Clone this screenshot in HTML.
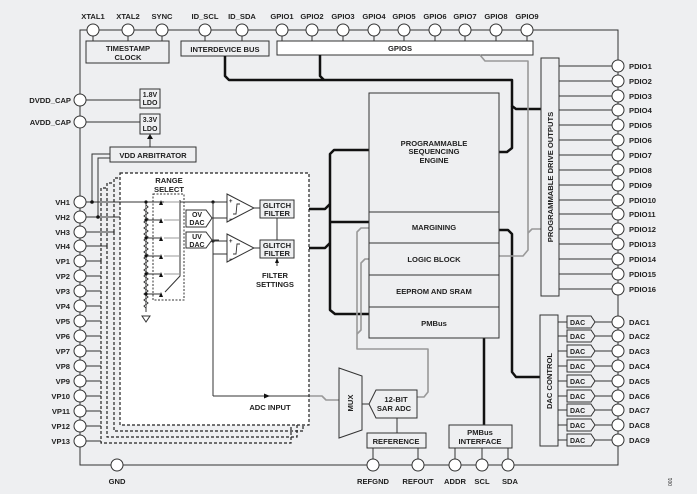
<!DOCTYPE html>
<html><head><meta charset="utf-8"><style>
html,body{margin:0;padding:0;background:#eeeff1;}
svg{display:block;font-family:"Liberation Sans",sans-serif;font-weight:bold;}
text{font-size:7.6px;fill:#222;}
</style></head><body>
<svg width="697" height="494" viewBox="0 0 697 494" xmlns="http://www.w3.org/2000/svg">
<rect width="697" height="494" fill="#eeeff1"/>
<g fill="none" stroke="#333" stroke-width="1">
<polyline points="80,441 80,30 618,30 618,465 80,465 80,441"/>
</g>
<g text-anchor="middle">
<text x="93" y="19">XTAL1</text><text x="128" y="19">XTAL2</text><text x="162" y="19">SYNC</text>
<text x="205" y="19">ID_SCL</text><text x="242" y="19">ID_SDA</text>
<text x="282" y="19">GPIO1</text><text x="312" y="19">GPIO2</text><text x="343" y="19">GPIO3</text>
<text x="374" y="19">GPIO4</text><text x="404" y="19">GPIO5</text><text x="435" y="19">GPIO6</text>
<text x="465" y="19">GPIO7</text><text x="496" y="19">GPIO8</text><text x="527" y="19">GPIO9</text>
</g>
<g stroke="#333" fill="none">
<line x1="93" y1="30" x2="93" y2="41"/><line x1="128" y1="30" x2="128" y2="41"/><line x1="162" y1="30" x2="162" y2="41"/>
<line x1="205" y1="30" x2="205" y2="41"/><line x1="242" y1="30" x2="242" y2="41"/>
<line x1="282" y1="30" x2="282" y2="41"/><line x1="312" y1="30" x2="312" y2="41"/><line x1="343" y1="30" x2="343" y2="41"/><line x1="374" y1="30" x2="374" y2="41"/><line x1="404" y1="30" x2="404" y2="41"/><line x1="435" y1="30" x2="435" y2="41"/><line x1="465" y1="30" x2="465" y2="41"/><line x1="496" y1="30" x2="496" y2="41"/><line x1="527" y1="30" x2="527" y2="41"/>
</g>
<g fill="#fff" stroke="#333">
<circle cx="93" cy="30" r="6"/><circle cx="128" cy="30" r="6"/><circle cx="162" cy="30" r="6"/>
<circle cx="205" cy="30" r="6"/><circle cx="242" cy="30" r="6"/>
<circle cx="282" cy="30" r="6"/><circle cx="312" cy="30" r="6"/><circle cx="343" cy="30" r="6"/><circle cx="374" cy="30" r="6"/><circle cx="404" cy="30" r="6"/><circle cx="435" cy="30" r="6"/><circle cx="465" cy="30" r="6"/><circle cx="496" cy="30" r="6"/><circle cx="527" cy="30" r="6"/>
</g>
<g stroke="#333" stroke-width="1">
<rect x="86" y="41" width="83" height="22" fill="#eeeff1"/>
<rect x="181" y="41" width="88" height="15" fill="#eeeff1"/>
<rect x="277" y="41" width="256" height="14" fill="#fff"/>
</g>
<g text-anchor="middle">
<text x="128" y="51">TIMESTAMP</text><text x="128" y="60">CLOCK</text>
<text x="225" y="52">INTERDEVICE BUS</text>
<text x="400" y="51">GPIOS</text>
</g>
<g fill="none" stroke="#111" stroke-width="2.5" stroke-linejoin="round">
<polyline points="225,56 225,76 229,80 512,80 512,106 516,109 541,109"/>
<polyline points="320,55 320,76 324,80"/>
<polyline points="512,106 512,148 507,152 499,152"/>
<polyline points="499,230 508,230 512,234 512,372 516,377 540,377"/>
<polyline points="369,150 334,150 330,154 330,310 335,314 369,314"/>
<polyline points="330,222 369,222"/>
<polyline points="294,209 325,209 330,204"/>
<polyline points="294,248 325,248 330,243"/>
<line x1="484" y1="338" x2="484" y2="425"/>
</g>
<g fill="none" stroke="#999" stroke-width="1.6" stroke-linejoin="round">
<polyline points="480,55 485,61 528,61 528,250 523,256 499,256"/>
<polyline points="528,233 532,229 541,229"/>
<polyline points="369,228 361,228 357,232 357,349 428,349 428,392 424,397 417,397"/>
<polyline points="369,259 365,259 361,263 361,330 357,334"/>
<polyline points="309,396 322,396 326,400 339,400"/>
</g>
<g stroke="#333" fill="none">
<line x1="80" y1="100" x2="140" y2="100"/>
<line x1="80" y1="122" x2="140" y2="122"/>
<line x1="150" y1="134" x2="150" y2="147"/>
<polyline points="110,154 92,154 92,202"/>
<polyline points="110,158 98,158 98,217"/>
<line x1="80" y1="202" x2="153" y2="202"/>
<line x1="80" y1="217" x2="120" y2="217"/>
</g>
<polygon points="147,139 153,139 150,134" fill="#111"/>
<g stroke="#333" fill="none">
<line x1="80" y1="232" x2="114" y2="232"/><line x1="80" y1="246" x2="107" y2="246"/>
<line x1="80" y1="261" x2="101" y2="261"/><line x1="80" y1="276" x2="101" y2="276"/>
<line x1="80" y1="291" x2="101" y2="291"/><line x1="80" y1="306" x2="101" y2="306"/>
<line x1="80" y1="321" x2="101" y2="321"/><line x1="80" y1="336" x2="101" y2="336"/>
<line x1="80" y1="351" x2="101" y2="351"/><line x1="80" y1="366" x2="101" y2="366"/>
<line x1="80" y1="381" x2="101" y2="381"/><line x1="80" y1="396" x2="101" y2="396"/>
<line x1="80" y1="411" x2="101" y2="411"/><line x1="80" y1="426" x2="101" y2="426"/>
<line x1="80" y1="441" x2="101" y2="441"/>
</g>
<circle cx="92" cy="202" r="1.8" fill="#111"/><circle cx="98" cy="217" r="1.8" fill="#111"/>
<g fill="#fff" stroke="#333">
<circle cx="80" cy="100" r="6"/><circle cx="80" cy="122" r="6"/>
<circle cx="80" cy="202" r="6"/><circle cx="80" cy="217" r="6"/><circle cx="80" cy="232" r="6"/><circle cx="80" cy="246" r="6"/>
<circle cx="80" cy="261" r="6"/><circle cx="80" cy="276" r="6"/><circle cx="80" cy="291" r="6"/><circle cx="80" cy="306" r="6"/>
<circle cx="80" cy="321" r="6"/><circle cx="80" cy="336" r="6"/><circle cx="80" cy="351" r="6"/><circle cx="80" cy="366" r="6"/>
<circle cx="80" cy="381" r="6"/><circle cx="80" cy="396" r="6"/><circle cx="80" cy="411" r="6"/><circle cx="80" cy="426" r="6"/><circle cx="80" cy="441" r="6"/>
</g>
<g text-anchor="end">
<text x="71" y="103">DVDD_CAP</text><text x="71" y="125">AVDD_CAP</text>
<text x="70" y="205">VH1</text><text x="70" y="220">VH2</text><text x="70" y="235">VH3</text><text x="70" y="249">VH4</text>
<text x="70" y="264">VP1</text><text x="70" y="279">VP2</text><text x="70" y="294">VP3</text><text x="70" y="309">VP4</text>
<text x="70" y="324">VP5</text><text x="70" y="339">VP6</text><text x="70" y="354">VP7</text><text x="70" y="369">VP8</text>
<text x="70" y="384">VP9</text><text x="70" y="399">VP10</text><text x="70" y="414">VP11</text><text x="70" y="429">VP12</text><text x="70" y="444">VP13</text>
</g>
<g stroke="#333" fill="#eeeff1">
<rect x="140" y="89" width="20" height="19"/><rect x="140" y="114" width="20" height="20"/>
<rect x="110" y="147" width="86" height="15"/>
</g>
<g text-anchor="middle">
<text x="150" y="97" style="font-size:7px">1.8V</text><text x="150" y="105" style="font-size:7px">LDO</text>
<text x="150" y="122" style="font-size:7px">3.3V</text><text x="150" y="131" style="font-size:7px">LDO</text>
</g>
<text x="153" y="158" text-anchor="middle">VDD ARBITRATOR</text>
<g fill="none" stroke="#222" stroke-width="1.2" stroke-dasharray="3,2">
<polyline points="101,261 101,443 291,443 291,425"/>
<polyline points="101,261 101,188 107,188"/>
<polyline points="107,246 107,437 297,437 297,425"/>
<polyline points="107,246 107,183 114,183"/>
<polyline points="114,232 114,431 303,431 303,425"/>
<polyline points="114,232 114,178 120,178"/>
</g>
<rect x="120" y="173" width="189" height="252" fill="#fff" stroke="#222" stroke-width="1.2" stroke-dasharray="3,2"/>
<rect x="153" y="194" width="31" height="106" fill="none" stroke="#333" stroke-dasharray="2,1.5"/>
<text x="169" y="183" text-anchor="middle">RANGE</text><text x="169" y="192" text-anchor="middle">SELECT</text>
<g stroke="#333" fill="none">
<line x1="120" y1="202" x2="227" y2="202"/>
<line x1="146" y1="202" x2="146" y2="312"/>
<polyline points="146,205 148,207 144,210 148,213 144,216 148,219 144,222 148,225 144,228 148,231 144,234 148,237 144,240 148,243 144,246 148,249 144,252 148,255 144,258 148,261 144,264 148,267 144,270 148,273 144,276 148,279 144,282 148,285 144,288 148,291 144,294 148,297 144,300 148,303 144,306 146,308" fill="#eeeff1"/>
<line x1="146" y1="220" x2="160" y2="220"/><line x1="146" y1="238" x2="160" y2="238"/>
<line x1="146" y1="256" x2="160" y2="256"/><line x1="146" y1="274" x2="160" y2="274"/><line x1="146" y1="294" x2="160" y2="294"/>
<polyline points="180,200 180,276 165,292"/>
</g>
<polygon points="142,316 150,316 146,322" fill="#fff" stroke="#333"/>
<g fill="#999" stroke="#999">
<line x1="164" y1="202" x2="180" y2="202"/><line x1="164" y1="220" x2="180" y2="220"/><line x1="164" y1="238" x2="180" y2="238"/><line x1="164" y1="256" x2="180" y2="256"/><line x1="164" y1="274" x2="180" y2="274"/>
</g>
<g fill="#111">
<circle cx="146" cy="202" r="1.6"/><circle cx="146" cy="220" r="1.6"/><circle cx="146" cy="238" r="1.6"/><circle cx="146" cy="256" r="1.6"/><circle cx="146" cy="274" r="1.6"/><circle cx="146" cy="294" r="1.6"/>
<polygon points="159,205 163,205 161,200"/><polygon points="159,223 163,223 161,218"/><polygon points="159,241 163,241 161,236"/><polygon points="159,259 163,259 161,254"/><polygon points="159,277 163,277 161,272"/><polygon points="159,297 163,297 161,292"/>
<circle cx="213" cy="202" r="1.6"/><circle cx="213" cy="241" r="1.6"/>
</g>
<g stroke="#333" fill="none">
<line x1="213" y1="202" x2="213" y2="396"/>
<line x1="213" y1="396" x2="309" y2="396"/>
<line x1="213" y1="241" x2="227" y2="241"/>
<line x1="213" y1="254" x2="227" y2="254"/>
<line x1="211" y1="218" x2="227" y2="218"/>
<line x1="211" y1="240" x2="219" y2="240"/>
<line x1="254" y1="208" x2="260" y2="208"/><line x1="254" y1="248" x2="260" y2="248"/>
<line x1="277" y1="218" x2="277" y2="240"/>
<line x1="277" y1="258" x2="277" y2="266"/>
</g>
<polygon points="270,396 264,393.5 264,398.5" fill="#111"/>
<polygon points="277,258 275,263 279,263" fill="#111"/>
<g stroke="#333" fill="#fff">
<polygon points="227,194 254,208 227,222"/><polygon points="227,234 254,248 227,262"/>
<polygon points="186,210 206,210 212,218 206,227 186,227"/><polygon points="186,232 206,232 212,240 206,248 186,248"/>
<rect x="260" y="200" width="34" height="18" fill="#eeeff1"/><rect x="260" y="240" width="34" height="18" fill="#eeeff1"/>
</g>
<g stroke="#333" fill="none" stroke-width="0.9">
<polyline points="233,214 236,214 237,204 240,204"/><polyline points="233,254 236,254 237,244 240,244"/>
</g>
<g><text x="229" y="203" style="font-size:6px">+</text><text x="229" y="221" style="font-size:6px">−</text><text x="229" y="243" style="font-size:6px">+</text><text x="229" y="261" style="font-size:6px">−</text></g>
<g text-anchor="middle">
<text x="197" y="217" style="font-size:7px">OV</text><text x="197" y="225" style="font-size:7px">DAC</text>
<text x="197" y="239" style="font-size:7px">UV</text><text x="197" y="247" style="font-size:7px">DAC</text>
</g>
<g text-anchor="middle">
<text x="277" y="208">GLITCH</text><text x="277" y="216">FILTER</text>
<text x="277" y="248">GLITCH</text><text x="277" y="256">FILTER</text>
<text x="275" y="278">FILTER</text><text x="275" y="287">SETTINGS</text>
<text x="270" y="410">ADC INPUT</text>
</g>
<g stroke="#333" fill="#eeeff1">
<rect x="369" y="93" width="130" height="245"/>
<line x1="369" y1="212" x2="499" y2="212"/><line x1="369" y1="243" x2="499" y2="243"/>
<line x1="369" y1="275" x2="499" y2="275"/><line x1="369" y1="307" x2="499" y2="307"/>
</g>
<g text-anchor="middle">
<text x="434" y="146">PROGRAMMABLE</text><text x="434" y="154">SEQUENCING</text><text x="434" y="163">ENGINE</text>
<text x="434" y="230">MARGINING</text><text x="434" y="262">LOGIC BLOCK</text>
<text x="434" y="294">EEPROM AND SRAM</text><text x="434" y="326">PMBus</text>
</g>
<rect x="541" y="58" width="18" height="238" fill="#eeeff1" stroke="#333"/>
<text transform="translate(553,177) rotate(-90)" text-anchor="middle">PROGRAMMABLE DRIVE OUTPUTS</text>
<g stroke="#333">
<line x1="559" y1="66" x2="618" y2="66"/><line x1="559" y1="81" x2="618" y2="81"/><line x1="559" y1="96" x2="618" y2="96"/><line x1="559" y1="110" x2="618" y2="110"/>
<line x1="559" y1="125" x2="618" y2="125"/><line x1="559" y1="140" x2="618" y2="140"/><line x1="559" y1="155" x2="618" y2="155"/><line x1="559" y1="170" x2="618" y2="170"/>
<line x1="559" y1="185" x2="618" y2="185"/><line x1="559" y1="200" x2="618" y2="200"/><line x1="559" y1="214" x2="618" y2="214"/><line x1="559" y1="229" x2="618" y2="229"/>
<line x1="559" y1="244" x2="618" y2="244"/><line x1="559" y1="259" x2="618" y2="259"/><line x1="559" y1="274" x2="618" y2="274"/><line x1="559" y1="289" x2="618" y2="289"/>
</g>
<g fill="#fff" stroke="#333">
<circle cx="618" cy="66" r="6"/><circle cx="618" cy="81" r="6"/><circle cx="618" cy="96" r="6"/><circle cx="618" cy="110" r="6"/>
<circle cx="618" cy="125" r="6"/><circle cx="618" cy="140" r="6"/><circle cx="618" cy="155" r="6"/><circle cx="618" cy="170" r="6"/>
<circle cx="618" cy="185" r="6"/><circle cx="618" cy="200" r="6"/><circle cx="618" cy="214" r="6"/><circle cx="618" cy="229" r="6"/>
<circle cx="618" cy="244" r="6"/><circle cx="618" cy="259" r="6"/><circle cx="618" cy="274" r="6"/><circle cx="618" cy="289" r="6"/>
</g>
<g>
<text x="629" y="69">PDIO1</text><text x="629" y="84">PDIO2</text><text x="629" y="99">PDIO3</text><text x="629" y="113">PDIO4</text>
<text x="629" y="128">PDIO5</text><text x="629" y="143">PDIO6</text><text x="629" y="158">PDIO7</text><text x="629" y="173">PDIO8</text>
<text x="629" y="188">PDIO9</text><text x="629" y="203">PDIO10</text><text x="629" y="217">PDIO11</text><text x="629" y="232">PDIO12</text>
<text x="629" y="247">PDIO13</text><text x="629" y="262">PDIO14</text><text x="629" y="277">PDIO15</text><text x="629" y="292">PDIO16</text>
</g>
<rect x="540" y="315" width="18" height="131" fill="#eeeff1" stroke="#333"/>
<text transform="translate(552,381) rotate(-90)" text-anchor="middle">DAC CONTROL</text>
<g stroke="#333" fill="#eeeff1">
<line x1="558" y1="322" x2="618" y2="322"/><line x1="558" y1="336" x2="618" y2="336"/><line x1="558" y1="351" x2="618" y2="351"/>
<line x1="558" y1="366" x2="618" y2="366"/><line x1="558" y1="381" x2="618" y2="381"/><line x1="558" y1="396" x2="618" y2="396"/>
<line x1="558" y1="410" x2="618" y2="410"/><line x1="558" y1="425" x2="618" y2="425"/><line x1="558" y1="440" x2="618" y2="440"/>
<polygon points="567,316 591,316 595,322 591,328 567,328"/><polygon points="567,330 591,330 595,336 591,342 567,342"/>
<polygon points="567,345 591,345 595,351 591,357 567,357"/><polygon points="567,360 591,360 595,366 591,372 567,372"/>
<polygon points="567,375 591,375 595,381 591,387 567,387"/><polygon points="567,390 591,390 595,396 591,402 567,402"/>
<polygon points="567,404 591,404 595,410 591,416 567,416"/><polygon points="567,419 591,419 595,425 591,431 567,431"/>
<polygon points="567,434 591,434 595,440 591,446 567,446"/>
</g>
<g>
<text x="570" y="325" style="font-size:7px">DAC</text><text x="570" y="339" style="font-size:7px">DAC</text><text x="570" y="354" style="font-size:7px">DAC</text>
<text x="570" y="369" style="font-size:7px">DAC</text><text x="570" y="384" style="font-size:7px">DAC</text><text x="570" y="399" style="font-size:7px">DAC</text>
<text x="570" y="413" style="font-size:7px">DAC</text><text x="570" y="428" style="font-size:7px">DAC</text><text x="570" y="443" style="font-size:7px">DAC</text>
</g>
<g fill="#fff" stroke="#333">
<circle cx="618" cy="322" r="6"/><circle cx="618" cy="336" r="6"/><circle cx="618" cy="351" r="6"/><circle cx="618" cy="366" r="6"/>
<circle cx="618" cy="381" r="6"/><circle cx="618" cy="396" r="6"/><circle cx="618" cy="410" r="6"/><circle cx="618" cy="425" r="6"/><circle cx="618" cy="440" r="6"/>
</g>
<g>
<text x="629" y="325">DAC1</text><text x="629" y="339">DAC2</text><text x="629" y="354">DAC3</text><text x="629" y="369">DAC4</text>
<text x="629" y="384">DAC5</text><text x="629" y="399">DAC6</text><text x="629" y="413">DAC7</text><text x="629" y="428">DAC8</text><text x="629" y="443">DAC9</text>
</g>
<g stroke="#333" fill="#eeeff1">
<line x1="362" y1="404" x2="369" y2="404"/>
<polygon points="339,368 362,376 362,430 339,438"/>
<polygon points="376,390 417,390 417,418 376,418 369,404"/>
<line x1="397" y1="418" x2="397" y2="433"/>
<rect x="367" y="433" width="59" height="15"/>
<rect x="449" y="425" width="63" height="23"/>
<line x1="373" y1="448" x2="373" y2="465"/><line x1="418" y1="448" x2="418" y2="465"/>
<line x1="455" y1="448" x2="455" y2="465"/><line x1="482" y1="448" x2="482" y2="465"/><line x1="508" y1="448" x2="508" y2="465"/>
</g>
<text transform="translate(353,403) rotate(-90)" text-anchor="middle">MUX</text>
<g text-anchor="middle">
<text x="396" y="402">12-BIT</text><text x="394" y="411">SAR ADC</text>
<text x="396" y="444">REFERENCE</text>
<text x="480" y="435">PMBus</text><text x="480" y="444">INTERFACE</text>
</g>
<g fill="#fff" stroke="#333">
<circle cx="117" cy="465" r="6"/>
<circle cx="373" cy="465" r="6"/><circle cx="418" cy="465" r="6"/><circle cx="455" cy="465" r="6"/><circle cx="482" cy="465" r="6"/><circle cx="508" cy="465" r="6"/>
</g>
<g text-anchor="middle">
<text x="117" y="484">GND</text><text x="373" y="484">REFGND</text><text x="418" y="484">REFOUT</text>
<text x="455" y="484">ADDR</text><text x="482" y="484">SCL</text><text x="510" y="484">SDA</text>
</g>
<text transform="translate(672,486) rotate(-90)" style="font-size:5px;font-weight:normal">001</text>
</svg>
</body></html>
